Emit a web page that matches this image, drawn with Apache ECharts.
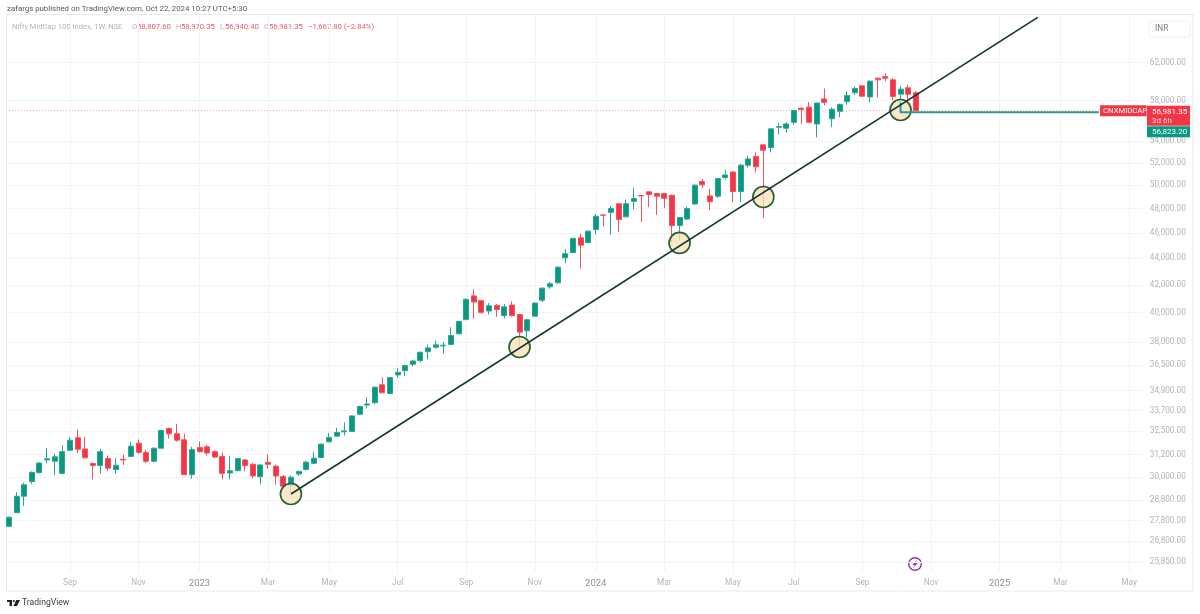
<!DOCTYPE html>
<html><head><meta charset="utf-8">
<script src="https://cdn.jsdelivr.net/npm/echarts@6/dist/echarts.min.js"></script>
<style>html,body{margin:0;padding:0;background:#fff}#c{width:1200px;height:614px}</style></head>
<body><div id="c"></div>
<script>
const firstWeek = '2022-07-11';
const weekCount = 150;
const monthTicks = {'2022-09-05':'Sep','2022-11-07':'Nov','2023-01-02':'2023','2023-03-06':'Mar','2023-05-01':'May','2023-07-03':'Jul','2023-09-04':'Sep','2023-11-06':'Nov','2024-01-01':'2024','2024-03-04':'Mar','2024-05-06':'May','2024-07-01':'Jul','2024-09-02':'Sep','2024-11-04':'Nov','2025-01-06':'2025','2025-03-03':'Mar','2025-05-05':'May'};
const priceTicks = [62000,58000,54000,52000,50000,48000,46000,44000,42000,40000,38000,36500,34900,33700,32500,31200,30000,28800,27800,26800,25850];
const opens = [27518,28181,29006,29763,30227,30911,30836,30193,31437,32131,31512,30726,30606,30987,30399,30949,31099,31831,31324,30836,31550,32657,32357,32019,30124,31587,31625,31362,31099,30210,30330,30911,30674,30021,30780,30571,30021,29556,30158,30399,30726,31043,31906,32225,32469,32488,33483,34026,34170,35256,34723,35871,36138,36548,36782,37364,37655,37744,37834,38550,39534,41198,40856,40123,40514,39802,40539,39870,38751,39758,40880,41858,42151,44040,44439,45611,45238,46277,47475,47687,48415,47315,48619,49113,49433,49288,49288,49142,46596,47129,48386,50335,49084,49055,50685,51179,49463,51790,52592,53672,53418,55356,55260,55832,57233,57337,55674,58169,56182,56921,57891,58793,59521,58377,60319,60492,60145,58654,59313,58807.6];
const highs = [27980,29212,29694,30296,30780,31568,31249,31719,32169,32601,32188,30726,31512,31155,31024,31193,31906,32038,31474,31606,32563,32732,32920,32357,31625,31925,31737,31437,31324,31137,31005,30949,30760,30674,31212,30657,30107,30072,30347,30848,31343,31812,32413,32694,33013,33408,33985,34497,35153,35728,35748,36302,36527,36827,37386,37834,38102,37990,38997,39422,41003,41662,40880,40685,40612,40612,40807,39914,39579,40710,41809,42224,43372,44732,45611,45930,46197,47555,47502,48240,48415,48764,49783,49113,49462,49346,49346,49171,47288,48182,50073,50539,49695,50626,51383,51238,51907,52655,52973,53672,55197,55769,55864,57060,57302,57857,57753,59244,57302,57684,58966,59452,59521,60076,60388,60838,60353,59486,59625,58970.35];
const lows = [27500,28170,28524,29642,30193,30726,30090,30180,31418,31287,30987,29866,30176,30330,30176,30640,31080,31230,30743,30780,31531,32075,31906,30107,29900,31324,31137,31005,29866,29866,30313,30296,29918,29608,30434,29591,29384,29178,30038,30347,30692,31005,31887,32206,32262,32469,33426,33821,34088,34744,34662,35687,35789,36404,36670,36872,37565,37230,37811,38505,39467,39601,39914,39870,39713,39601,39735,37722,38326,39735,40758,41711,42102,43617,44413,43226,45158,45877,46516,45851,46064,47288,47949,46889,48124,47475,48037,45265,45398,47076,48357,49783,47874,48910,50510,48560,48564,51587,51150,47235,52973,54657,54816,55578,55674,55769,54371,57510,55356,56340,57580,58585,58412,57822,58308,60006,58030,57500,57926,56940.4];
const closes = [27960,29006,29591,30244,30743,30968,31080,31362,32000,31493,31024,30606,31362,30468,30623,30911,31662,31324,30836,31550,32544,32357,32000,30124,31474,31362,31287,31062,30193,30330,30987,30606,30055,30640,30674,30055,29522,29986,30296,30791,31005,31775,32150,32432,32525,33389,33944,34088,35113,34764,35707,36035,36466,36760,37318,37610,37811,37789,38438,39400,40953,40758,40025,40490,40221,40416,39802,38661,39512,40685,41760,42078,43323,44359,45558,45025,46143,47368,47448,48007,47102,48415,48851,49084,49200,49055,48880,46596,47262,48007,50015,50044,48589,50597,50917,49462,51794,52369,51645,53164,55197,55419,55674,56990,57094,55832,57753,57822,57129,57614,58516,59244,58446,60006,60145,60319,58412,59174,58649.15,56981.35];
const touchPoints = [[37,29120],[67,37670],[88,45200],[99,48990],[117,57050]];
const trendLine = [[37,29120],[135,67100]];
const compareLine = [[117,57800],[117,56823.2],[143,56823.2]];
const lastClose = 56981.35;
const compareValue = 56823.2;
const symbolName = 'CNXMIDCAP';
const countdown = '3d 6h';
const legendName = 'Nifty MidCap 100 Index, 1W, NSE';
const legendLetters = ['O','H','L','C'];
const legendValues = ['58,807.60','58,970.35','56,940.40','56,981.35'];
const legendChange = '−1,667.80 (−2.84%)';

const RED='#f23645', GREEN='#089981', AXIS='#b2b5be';
const categories=[]; { const d=new Date(firstWeek+'T00:00:00Z'); for(let i=0;i<weekCount;i++){categories.push(d.toISOString().slice(0,10)); d.setUTCDate(d.getUTCDate()+7);} }
const candles=opens.map((o,i)=>[o,closes[i],lows[i],highs[i]]);
const fmt=v=>v.toLocaleString('en-US',{minimumFractionDigits:2,maximumFractionDigits:2});
const isTick=(i,v)=>monthTicks[categories[i]]!==undefined;
const fam='Roboto,sans-serif';
const legendText=[];
legendLetters.forEach((k,i)=>{
  legendText.push({type:'text',silent:true,x:132+44*i,y:27,style:{text:k,fill:AXIS,font:'7.7px '+fam,verticalAlign:'middle'}});
  legendText.push({type:'text',silent:true,x:137+44*i,y:27,style:{text:legendValues[i],fill:'#ef5a66',font:'7.7px '+fam,verticalAlign:'middle'}});
});

const chart=echarts.init(document.getElementById('c'),null,{renderer:'canvas'});
chart.setOption({
  animation:false, backgroundColor:'#fff',
  grid:{left:9,right:55.6,top:14,bottom:42,containLabel:false},
  xAxis:{type:'category',data:categories,boundaryGap:false,
    axisLine:{show:false},axisTick:{show:false},
    splitLine:{show:true,interval:isTick,lineStyle:{color:'#f3f4f6',width:1}},
    axisLabel:{interval:isTick,margin:6.5,fontFamily:fam,fontSize:8.3,color:AXIS,
      formatter:v=>{const t=monthTicks[v]||''; return /^\d+$/.test(t)?'{y|'+t+'}':t;},
      rich:{y:{color:'#8f929c',fontSize:9.5,fontFamily:fam}}}},
  yAxis:{type:'log',logBase:10,position:'right',min:25401,max:67497,
    axisLine:{show:false},
    axisTick:{show:false,customValues:priceTicks},
    splitLine:{show:true,lineStyle:{color:'#f3f4f6',width:1}},
    axisLabel:{customValues:priceTicks,align:'right',margin:41.4,fontFamily:fam,fontSize:8.2,color:AXIS,formatter:v=>fmt(v)}},
  series:[
    {name:'last',type:'line',data:[[0,lastClose],[143,lastClose]],symbol:'none',silent:true,z:1,
      lineStyle:{color:'#f4a3aa',width:1,type:[1,2]}},
    {name:'Nifty MidCap 100',type:'candlestick',data:candles,barWidth:5.5,clip:false,z:2,
      itemStyle:{color:GREEN,color0:RED,borderColor:'#2ea592',borderColor0:'#f4525f',borderWidth:1}},
    {name:'touch',type:'scatter',data:touchPoints,symbol:'circle',symbolSize:21,z:3,silent:true,
      itemStyle:{color:'rgba(249,226,186,0.78)',borderColor:'#2a5f35',borderWidth:1.7,opacity:1}},
    {name:'compare',type:'line',data:compareLine,symbol:'none',z:4,silent:true,lineStyle:{color:'#2a9d8a',width:2}},
    {name:'trend',type:'line',data:trendLine,symbol:'none',z:5,silent:true,lineStyle:{color:'#12362b',width:1.6},clip:false},
    {name:'tags',type:'scatter',symbolSize:0,z:6,silent:true,clip:false,itemStyle:{opacity:1},
      data:[
       {value:[143,lastClose],label:{show:true,opacity:1,position:'right',distance:1.4,formatter:symbolName,backgroundColor:RED,color:'#fff',fontFamily:fam,fontSize:7.7,padding:[1,2,1,3],width:41.5,height:9,lineHeight:9}},
       {value:[149,lastClose],label:{show:true,opacity:1,position:'right',distance:2.6,offset:[0,5.1],formatter:'{a|'+fmt(lastClose)+'}\n{b|'+countdown+'}',backgroundColor:RED,padding:[1,3,1,5],width:35,height:18,
          rich:{a:{color:'#fff',fontFamily:fam,fontSize:8,lineHeight:9.5},b:{color:'#ffd4d8',fontFamily:fam,fontSize:8,lineHeight:9.5}}}},
       {value:[149,compareValue],label:{show:true,opacity:1,position:'right',distance:2.6,offset:[0,19.4],formatter:fmt(compareValue),backgroundColor:GREEN,color:'#fff',fontFamily:fam,fontSize:8,padding:[1,3,1,5],width:35,height:9,lineHeight:9}}
      ]}
  ],
  graphic:{elements:[
    {type:'rect',silent:true,z:-1,shape:{x:6.5,y:14.5,width:1186.5,height:576.5},style:{fill:null,stroke:'#e9eaec',lineWidth:1}},
    {type:'rect',silent:true,z:20,shape:{x:1149,y:21,width:41,height:16,r:2},style:{fill:'#fff',stroke:'#eef0f2',lineWidth:1}},
    {type:'text',silent:true,z:21,x:1155,y:29,style:{text:'INR',fill:'#787b86',font:'8.3px '+fam,verticalAlign:'middle'}},
    {type:'text',silent:true,x:7,y:9.5,style:{text:'zafargs published on TradingView.com, Oct 22, 2024 10:27 UTC+5:30',fill:'#555860',font:'7.85px '+fam,verticalAlign:'middle'}},
    {type:'text',silent:true,x:12,y:27,style:{text:legendName,fill:AXIS,font:'7.6px '+fam,verticalAlign:'middle'}},
    ...legendText,
    {type:'text',silent:true,x:308,y:27,style:{text:legendChange,fill:'#ef5a66',font:'7.7px '+fam,verticalAlign:'middle'}},
    {type:'text',silent:true,x:22,y:603,style:{text:'TradingView',fill:'#3a3d45',font:'8.6px '+fam,verticalAlign:'middle'}},
    {type:'polygon',silent:true,shape:{points:[[7,600],[12,600],[12,606],[9.5,606],[9.5,602],[7,602]]},style:{fill:'#1f2229'}},
    {type:'circle',silent:true,shape:{cx:13.8,cy:601,r:1.1},style:{fill:'#1f2229'}},
    {type:'polygon',silent:true,shape:{points:[[16.2,600],[20,600],[17,606],[13.5,606]]},style:{fill:'#1f2229'}},
    {type:'circle',silent:true,shape:{cx:915,cy:564,r:6.3},style:{fill:'#fff',stroke:'#8e3a9d',lineWidth:1.4}},
    {type:'polygon',silent:true,shape:{points:[[917,560],[912.3,564.9],[914.6,564.9],[913.2,568],[917.8,563.1],[915.5,563.1]]},style:{fill:'#8e3a9d'}}
  ]}
});
</script></body></html>
